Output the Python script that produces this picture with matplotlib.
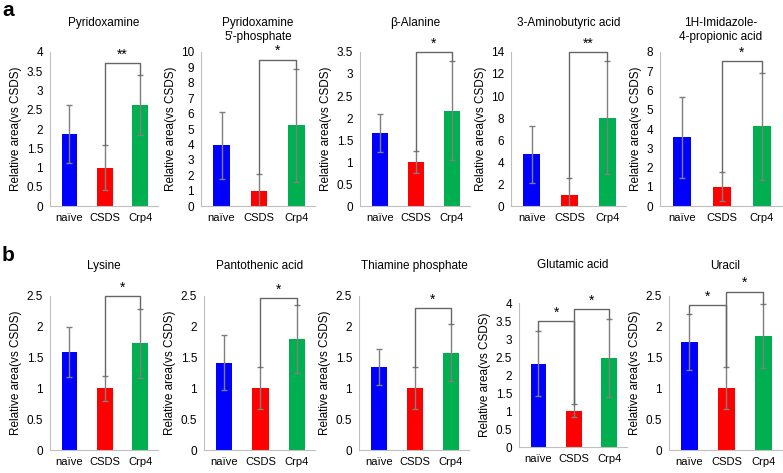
import numpy as np
import matplotlib
matplotlib.use('Agg')
import matplotlib.pyplot as plt

plt.rcParams['font.family'] = ['Liberation Sans', 'DejaVu Sans']

groups = ['naïve', 'CSDS', 'Crp4']
colors = ['#0000FF', '#FF0000', '#00B050']

# panel a
titles_a = ['Pyridoxamine', "Pyridoxamine\n5'-phosphate", 'β-Alanine',
            '3-Aminobutyric acid', '1H-Imidazole-\n4-propionic acid']
means_a = [[1.87, 1.0, 2.63], [3.95, 1.0, 5.25], [1.66, 1.0, 2.17],
           [4.69, 1.0, 8.04], [3.58, 1.0, 4.13]]
errs_a = [[0.75, 0.58, 0.78], [2.17, 1.07, 3.67], [0.44, 0.26, 1.13],
          [2.56, 1.57, 5.14], [2.10, 0.75, 2.78]]
ymax_a = [4, 10, 3.5, 14, 8]
ystep_a = [0.5, 1, 0.5, 2, 1]
# significance brackets: (from, to, height, label)
sig_a = [[(1, 2, 3.71, '**')], [(1, 2, 9.5, '*')], [(1, 2, 3.5, '*')],
         [(1, 2, 14.0, '**')], [(1, 2, 7.53, '*')]]

# panel b
titles_b = ['Lysine', 'Pantothenic acid', 'Thiamine phosphate',
            'Glutamic acid', 'Uracil']
means_b = [[1.59, 1.0, 1.73], [1.42, 1.0, 1.80], [1.35, 1.0, 1.58],
           [2.31, 1.01, 2.47], [1.75, 1.0, 1.85]]
errs_b = [[0.41, 0.20, 0.56], [0.45, 0.34, 0.55], [0.29, 0.34, 0.46],
          [0.90, 0.19, 1.09], [0.45, 0.34, 0.52]]
ymax_b = [2.5, 2.5, 2.5, 4, 2.5]
ystep_b = [0.5, 0.5, 0.5, 0.5, 0.5]
sig_b = [[(1, 2, 2.5, '*')], [(1, 2, 2.47, '*')], [(1, 2, 2.3, '*')],
         [(0, 1, 3.49, '*'), (1, 2, 3.84, '*')],
         [(0, 1, 2.35, '*'), (1, 2, 2.57, '*')]]

W, H = 783, 473
fig = plt.figure(figsize=(W / 100, H / 100), dpi=100)

# axes boxes in pixels: left, top, width, height
boxes_a = [(50, 52, 108, 154), (201, 52, 114, 154), (360, 52, 110, 154),
           (511, 52, 115, 154), (660, 52, 122, 154)]
boxes_b = [(50, 296, 108, 154), (204, 296, 111, 154), (359, 296, 110, 154),
           (519, 303, 108, 144), (669, 296, 113, 154)]
title_y_a = [23, 30, 23, 23, 30]
title_y_b = [266, 266, 266, 265, 266]


def draw(box, title, ty, means, errs, ymax, ystep, sigs):
    l, t, w, h = box
    ax = fig.add_axes([l / W, 1 - (t + h) / H, w / W, h / H])
    x = np.arange(3)
    ax.bar(x, means, width=0.45, color=colors, zorder=2)
    ax.errorbar(x, means, yerr=errs, fmt='none', ecolor='#7f7f7f',
                elinewidth=1, capsize=2.5, capthick=1, zorder=3)
    tops = np.array(means) + np.array(errs)
    for i, j, y, lab in sigs:
        ax.plot([i, i, j, j], [tops[i], y, y, tops[j]], color='#666666',
                lw=1, clip_on=False, zorder=4)
        ax.text((i + j) / 2, y + ymax * 0.01, lab, ha='center', va='bottom',
                fontsize=10, clip_on=False)
    ax.set_xlim(-0.55, 2.5)
    ax.set_ylim(0, ymax)
    yt = np.arange(0, ymax + ystep / 2, ystep)
    ax.set_yticks(yt)
    ax.set_yticklabels(['%g' % v for v in yt])
    ax.set_xticks(x)
    ax.set_xticklabels(groups)
    ax.tick_params(length=0, pad=5)
    ax.tick_params(axis='x', labelsize=8)
    ax.tick_params(axis='y', labelsize=8.5)
    for s in ['top', 'right']:
        ax.spines[s].set_visible(False)
    for s in ['left', 'bottom']:
        ax.spines[s].set_color('#bfbfbf')
    ax.set_ylabel('Relative area(vs CSDS)', fontsize=8.5, labelpad=3)
    fig.text((l + w / 2) / W, 1 - ty / H, title, ha='center', va='center',
             fontsize=8.5, linespacing=1.3)
    return ax


for k in range(5):
    draw(boxes_a[k], titles_a[k], title_y_a[k], means_a[k], errs_a[k],
         ymax_a[k], ystep_a[k], sig_a[k])
    draw(boxes_b[k], titles_b[k], title_y_b[k], means_b[k], errs_b[k],
         ymax_b[k], ystep_b[k], sig_b[k])

fig.text(2 / W, 1 - 1 / H, 'a', fontsize=15, fontweight='bold', va='top')
fig.text(2 / W, 1 - 246 / H, 'b', fontsize=15, fontweight='bold', va='top')

fig.savefig('out.png', dpi=100)
